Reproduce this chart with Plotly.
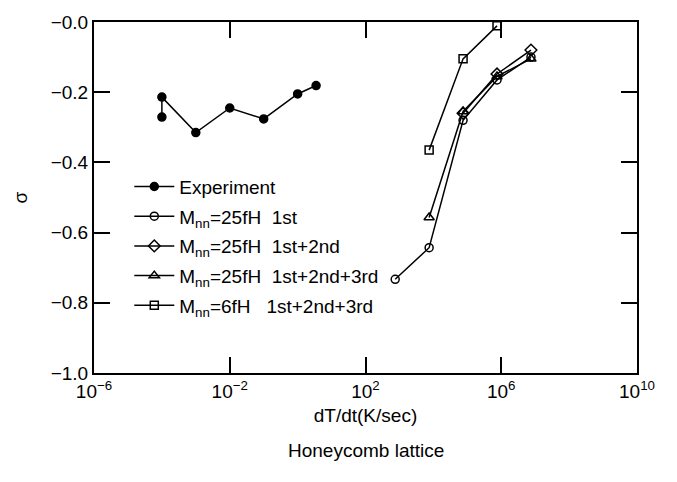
import plotly.graph_objects as go

FONT = "Liberation Sans"

# Experiment
exp_x = [1e-4, 1e-4, 1e-3, 1e-2, 1e-1, 1.0, 3.5]
exp_y = [-0.271, -0.214, -0.315, -0.245, -0.276, -0.205, -0.181]

# Mnn=25fH 1st
c1_x = [7.5e2, 7.5e3, 7.5e4, 7.5e5, 7.5e6]
c1_y = [-0.733, -0.643, -0.280, -0.165, -0.100]

# Mnn=25fH 1st+2nd
d_x = [7.5e4, 7.5e5, 7.5e6]
d_y = [-0.260, -0.148, -0.080]

# Mnn=25fH 1st+2nd+3rd
t_x = [7.5e3, 7.5e4, 7.5e5, 7.5e6]
t_y = [-0.557, -0.255, -0.155, -0.105]

# Mnn=6fH 1st+2nd+3rd
s_x = [7.5e3, 7.5e4, 7.5e5]
s_y = [-0.365, -0.105, -0.011]

x_tickvals = [1e-6, 1e-2, 1e2, 1e6, 1e10]
x_ticktext = ["10<sup>−6</sup>", "10<sup>−2</sup>", "10<sup>2</sup>", "10<sup>6</sup>", "10<sup>10</sup>"]
y_tickvals = [0.0, -0.2, -0.4, -0.6, -0.8, -1.0]
y_ticktext = ["−0.0", "−0.2", "−0.4", "−0.6", "−0.8", "−1.0"]

NB = "\u00a0"
names = [
    "Experiment",
    f"M<sub>nn</sub>=25fH{NB}{NB}1st",
    f"M<sub>nn</sub>=25fH{NB}{NB}1st+2nd",
    f"M<sub>nn</sub>=25fH{NB}{NB}1st+2nd+3rd",
    f"M<sub>nn</sub>=6fH{NB}{NB}{NB}1st+2nd+3rd",
]

fig = go.Figure()
series = [
    (exp_x, exp_y, "circle", 8),
    (c1_x, c1_y, "circle-open", 8),
    (d_x, d_y, "diamond-open", 9),
    (t_x, t_y, "triangle-up-open", 9),
    (s_x, s_y, "square-open", 8),
]
for i, ((xs, ys, sym, sz), nm) in enumerate(zip(series, names)):
    fig.add_trace(go.Scatter(
        x=xs, y=ys, mode="lines+markers", name=nm,
        legendgroup=f"g{i}",
        line=dict(color="black", width=1.5),
        marker=dict(symbol=sym, size=sz, color="black",
                    line=dict(color="black", width=1.5)),
    ))

fig.update_layout(
    width=677, height=482,
    margin=dict(l=94, r=40, t=12, b=109),
    paper_bgcolor="white", plot_bgcolor="white",
    font=dict(family=FONT, size=19, color="black"),
    showlegend=True,
    legend=dict(x=0.065, y=0.585, xanchor="left", yanchor="top",
                bgcolor="rgba(0,0,0,0)", tracegroupgap=2,
                traceorder="grouped", itemwidth=40,
                font=dict(family=FONT, size=19, color="black")),
    xaxis=dict(
        type="log", range=[-6, 10],
        tickvals=x_tickvals, ticktext=x_ticktext,
        ticks="inside", ticklen=16, tickwidth=2, tickcolor="black",
        showline=True, linewidth=2, linecolor="black", mirror="allticks",
        showgrid=False, zeroline=False,
        title=dict(text="dT/dt(K/sec)", standoff=8, font=dict(size=19)),
        tickfont=dict(size=19),
    ),
    yaxis=dict(
        range=[-1.0, 0.0],
        tickvals=y_tickvals, ticktext=y_ticktext,
        ticks="inside", ticklen=16, tickwidth=2, tickcolor="black",
        showline=True, linewidth=2, linecolor="black", mirror="allticks",
        showgrid=False, zeroline=False,
        title=dict(text="σ", standoff=18, font=dict(size=19)),
        tickfont=dict(size=19),
    ),
    annotations=[dict(
        text="Honeycomb lattice", xref="paper", yref="paper",
        x=0.5, y=-0.185, xanchor="center", yanchor="top",
        showarrow=False, font=dict(family=FONT, size=19, color="black"),
    )],
)

fig.write_html("out.html")
